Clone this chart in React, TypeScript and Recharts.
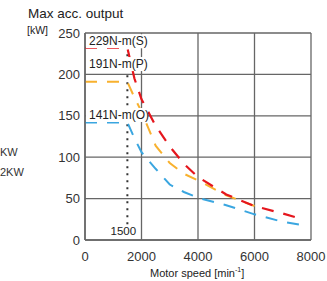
import { LineChart, Line, XAxis, YAxis, CartesianGrid, ReferenceLine, ReferenceDot } from "recharts";

// motor speed [min-1]
const speeds = [0, 1500, 1750, 2000, 2500, 3000, 3500, 4000, 5000, 6000, 7000, 7700];
// max acc. output [kW] per torque rating
const outS = [232, 232, 195, 170, 138, 113, 92, 76, 55, 41, 32, 25];
const outP = [191, 191, 172, 155, 114, 93, 80, 72, 54, 41, null, null];
const outO = [142, 142, 123, 106, 86, 67, 58, 51, 42, 31, 22, 18];

const xTicks = [0, 2000, 4000, 6000, 8000];
const yTicks = [0, 50, 100, 150, 200, 250];

const torqueLabels = [
  { text: "229N-m(S)", y: 240 },
  { text: "191N-m(P)", y: 212.5 },
  { text: "141N-m(O)", y: 151 },
];

const data = speeds.map((s, i) => ({ speed: s, S: outS[i], P: outP[i], O: outO[i] }));

const font = "'Liberation Sans', Arial, sans-serif";
const grid = "#666";

function TorqueLabel({ cx, cy, text }: { cx?: number; cy?: number; text: string }) {
  if (cx == null || cy == null) return null;
  return (
    <g>
      <rect x={cx + 1} y={cy - 7} width={62} height={14} fill="#fff" />
      <text x={cx + 4} y={cy} dy="0.35em" fontSize={12} fill="#222" fontFamily={font}>
        {text}
      </text>
    </g>
  );
}

export default function App() {
  return (
    <div style={{ position: "absolute", left: 0, top: 0, width: 327, height: 281, background: "#fff", fontFamily: font }}>
      <div style={{ position: "absolute", left: 28, top: 6, fontSize: 13.5, color: "#222" }}>Max acc. output</div>
      <div style={{ position: "absolute", left: 27, top: 24, fontSize: 10.5, color: "#222" }}>[kW]</div>
      <div style={{ position: "absolute", left: 0, top: 146, fontSize: 11, color: "#333" }}>KW</div>
      <div style={{ position: "absolute", left: 0, top: 166, fontSize: 11, color: "#333" }}>2KW</div>
      <div style={{ position: "absolute", left: 150, top: 266, fontSize: 11, color: "#222" }}>
        Motor speed [min<sup style={{ fontSize: 7 }}>-1</sup>]
      </div>
      <LineChart width={327} height={281} data={data} margin={{ top: 33, right: 16, left: 0, bottom: 11 }}>
        <CartesianGrid stroke={grid} strokeWidth={1.3} />
        <XAxis
          dataKey="speed"
          type="number"
          domain={[0, 8000]}
          ticks={xTicks}
          tickLine={false}
          tickSize={6}
          tickMargin={6}
          height={30}
          stroke={grid}
          strokeWidth={1.5}
          tick={{ fontSize: 13, fill: "#333", fontFamily: font }}
        />
        <YAxis
          type="number"
          domain={[0, 250]}
          ticks={yTicks}
          width={85}
          tickLine={false}
          tickSize={3}
          tickMargin={2}
          stroke={grid}
          strokeWidth={1.5}
          tick={{ fontSize: 13, fill: "#333", fontFamily: font }}
        />
        {torqueLabels.map((l) => (
          <ReferenceDot key={l.text} x={0} y={l.y} r={0} shape={(p: any) => <TorqueLabel cx={p.cx} cy={p.cy} text={l.text} />} />
        ))}
        <ReferenceLine
          segment={[{ x: 1500, y: 19 }, { x: 1500, y: 229 }]}
          stroke="#333"
          strokeWidth={2}
          strokeDasharray="2 5"
        />
        <ReferenceDot
          x={1500}
          y={6}
          r={0}
          shape={(p: any) => (
            <text x={p.cx - 4} y={p.cy} textAnchor="middle" fontSize={11.5} fill="#222" fontFamily={font}>
              1500
            </text>
          )}
        />
        <Line dataKey="O" stroke="#3aa6e0" strokeWidth={2} strokeDasharray="12 10" dot={false} type="linear" isAnimationActive={false} />
        <Line dataKey="P" stroke="#f8b12e" strokeWidth={2} strokeDasharray="12 10" dot={false} type="linear" isAnimationActive={false} />
        <Line dataKey="S" stroke="#e5161d" strokeWidth={2.2} strokeDasharray="12 10" dot={false} type="linear" isAnimationActive={false} />
      </LineChart>
    </div>
  );
}
